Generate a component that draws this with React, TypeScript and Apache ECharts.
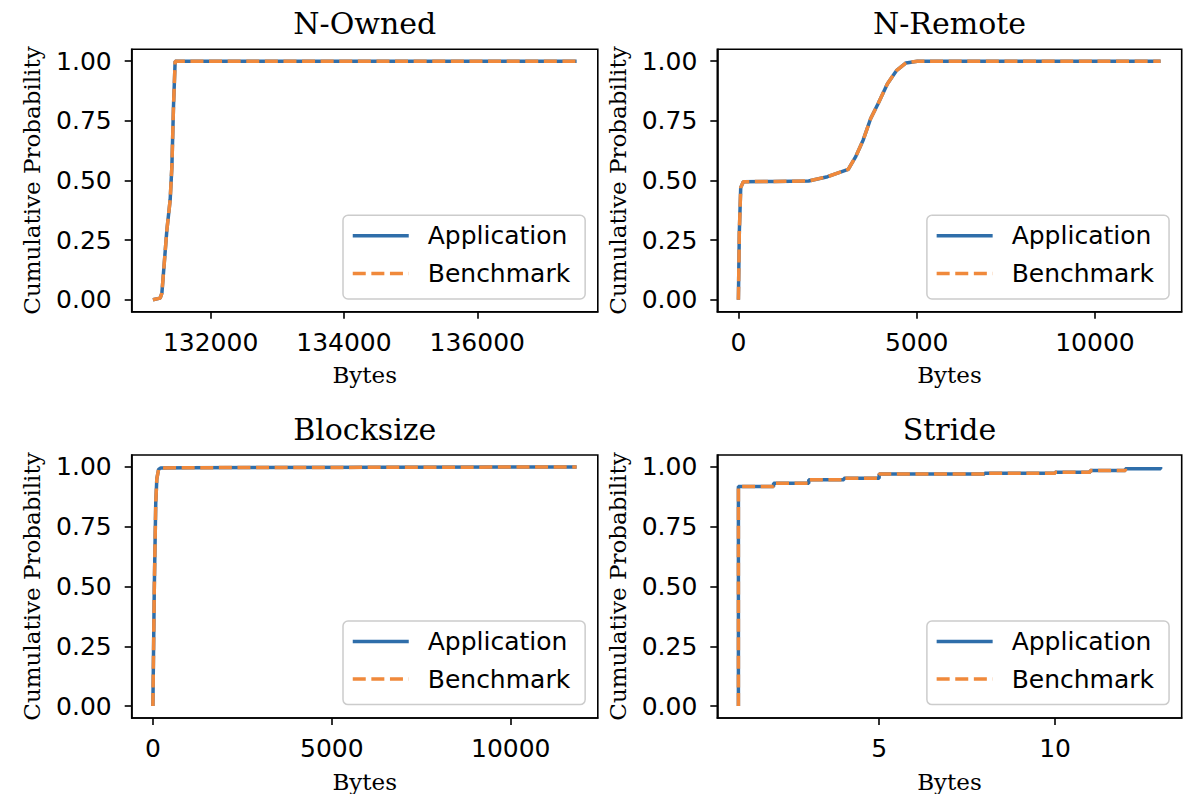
import React, { useEffect, useRef } from 'react';
import * as echarts from 'echarts';

// ---------- data ----------
const panelTitles = ['N-Owned', 'N-Remote', 'Blocksize', 'Stride'];
const seriesNames = ['Application', 'Benchmark'];
const yTicks = [0, 0.25, 0.5, 0.75, 1.0];
const nOwnedTicks = [132000, 134000, 136000];
const bytesTicks = [0, 5000, 10000];
const strideTicks = [5, 10];

// N-Owned (Application and Benchmark overlap)
const nOwnedX = [131134, 131243, 131269, 131344, 131393, 131419, 131443, 131468, 137490];
const nOwnedY = [0, 0.007, 0.028, 0.293, 0.418, 0.558, 0.81, 1.0, 1.0];

// N-Remote
const nRemoteX = [0, 25, 65, 138, 1000, 1970, 2500, 3080, 3290, 3500, 3710, 3920, 4180, 4440, 4700, 5020, 11840];
const nRemoteY = [0, 0.28, 0.47, 0.495, 0.496, 0.498, 0.516, 0.547, 0.6, 0.67, 0.76, 0.823, 0.906, 0.962, 0.993, 1.0, 1.0];

// Blocksize
const blockX = [0, 40, 80, 110, 160, 220, 1000, 11840];
const blockY = [0, 0.5, 0.85, 0.95, 0.99, 0.996, 0.997, 1.0];

// Stride (step CDF)
const strideAppX = [1, 1, 2, 3, 4, 5, 8, 10, 11, 12, 13];
const strideAppY = [0, 0.918, 0.932, 0.946, 0.953, 0.971, 0.974, 0.978, 0.985, 0.992, 1.0];
const strideBenchX = [1, 1, 2, 3, 4, 5, 8, 10, 11, 12];
const strideBenchY = [0, 0.918, 0.932, 0.946, 0.953, 0.971, 0.974, 0.978, 0.985, 0.992];

const BLUE = '#2f6eaa';
const ORANGE = '#f0893b';

const zip = (xs: number[], ys: number[]) => xs.map((x, i) => [x, ys[i]]);

const panels = [
  { app: zip(nOwnedX, nOwnedY), bench: zip(nOwnedX, nOwnedY), ticks: nOwnedTicks, step: false },
  { app: zip(nRemoteX, nRemoteY), bench: zip(nRemoteX, nRemoteY), ticks: bytesTicks, step: false },
  { app: zip(blockX, blockY), bench: zip(blockX, blockY), ticks: bytesTicks, step: false },
  { app: zip(strideAppX, strideAppY), bench: zip(strideBenchX, strideBenchY), ticks: strideTicks, step: true },
];

const grids = [
  { left: 131.7, top: 49.3, width: 466.1, height: 262.4 },
  { left: 717.3, top: 49.3, width: 464.4, height: 262.4 },
  { left: 131.7, top: 455, width: 466.1, height: 263.3 },
  { left: 717.3, top: 455, width: 464.4, height: 263.3 },
];

const SANS = 'DejaVu Sans';
const SERIF = 'DejaVu Serif';
const AXIS_LINE = { show: true, onZero: false, lineStyle: { color: '#000', width: 1.6 } };

function buildOption() {
  const xAxis: any[] = [];
  const yAxis: any[] = [];
  const series: any[] = [];
  const title: any[] = [];
  const legend: any[] = [];

  panels.forEach((p, i) => {
    const g = grids[i];
    const allX = [...p.app, ...p.bench].map((d) => d[0]);
    const xmin = Math.min(...allX);
    const xmax = Math.max(...allX);
    const pad = (xmax - xmin) * 0.05;
    xAxis.push({
      type: 'value',
      gridIndex: i,
      min: xmin - pad,
      max: xmax + pad,
      splitLine: { show: false },
      axisLine: AXIS_LINE,
      axisTick: { show: true, inside: false, length: 7, lineStyle: { color: '#000', width: 1.6 }, customValues: p.ticks },
      axisLabel: {
        customValues: p.ticks,
        margin: 18,
        fontFamily: SANS,
        fontSize: 25,
        color: '#000',
        formatter: (v: number) => String(v),
      },
      name: 'Bytes',
      nameLocation: 'middle',
      nameGap: 52,
      nameTextStyle: { fontFamily: SERIF, fontSize: 23, color: '#000' },
    });
    yAxis.push({
      type: 'value',
      gridIndex: i,
      min: -0.05,
      max: 1.05,
      splitLine: { show: false },
      axisLine: AXIS_LINE,
      axisTick: { show: true, inside: false, length: 7, lineStyle: { color: '#000', width: 1.6 }, customValues: yTicks },
      axisLabel: {
        customValues: yTicks,
        margin: 20,
        fontFamily: SANS,
        fontSize: 25,
        color: '#000',
        formatter: (v: number) => v.toFixed(2),
      },
      name: 'Cumulative Probability',
      nameLocation: 'middle',
      nameGap: 88,
      nameTextStyle: { fontFamily: SERIF, fontSize: 23, color: '#000' },
    });
    series.push({
      name: seriesNames[0],
      type: 'line',
      xAxisIndex: i,
      yAxisIndex: i,
      data: p.app,
      symbol: 'none',
      step: p.step ? 'end' : false,
      color: BLUE,
      lineStyle: { color: BLUE, width: 3.5, type: 'solid' },
      z: 2,
    });
    series.push({
      name: seriesNames[1],
      type: 'line',
      xAxisIndex: i,
      yAxisIndex: i,
      data: p.bench,
      symbol: 'none',
      step: p.step ? 'end' : false,
      color: ORANGE,
      lineStyle: { color: ORANGE, width: 3.5, type: [13, 5.6] },
      z: 3,
    });
    title.push({
      text: panelTitles[i],
      left: g.left + g.width / 2,
      top: g.top - 41,
      textAlign: 'center',
      padding: 0,
      textStyle: { fontFamily: SERIF, fontSize: 30, fontWeight: 'normal', color: '#000' },
    });
    legend.push({
      orient: 'vertical',
      left: g.left + g.width - 13.8 - 241,
      top: g.top + 166,
      data: seriesNames,
      itemWidth: 56,
      itemHeight: 14,
      itemGap: 12.6,
      padding: [8, 15, 13, 8],
      backgroundColor: 'rgba(255,255,255,0.8)',
      borderColor: '#cccccc',
      borderWidth: 1.5,
      borderRadius: 5,
      selectedMode: false,
      itemStyle: { color: 'transparent', borderColor: 'transparent', borderWidth: 0, opacity: 0 },
      lineStyle: { width: 3.5 },
      textStyle: { fontFamily: SANS, fontSize: 25, color: '#000', padding: [0, 0, 0, 14] },
    });
  });

  return {
    animation: false,
    backgroundColor: '#ffffff',
    title,
    legend,
    grid: grids.map((g) => ({ ...g, show: true, borderColor: '#000', borderWidth: 1.6, backgroundColor: 'transparent' })),
    xAxis,
    yAxis,
    series,
  };
}

export default function App() {
  const ref = useRef<HTMLDivElement>(null);
  useEffect(() => {
    if (!ref.current) return;
    const chart = echarts.init(ref.current, undefined, { renderer: 'svg' });
    chart.setOption(buildOption() as any);
    return () => chart.dispose();
  }, []);
  return (
    <div
      ref={ref}
      style={{ position: 'fixed', left: 0, top: 0, width: 1184, height: 794, background: '#fff' }}
    />
  );
}
